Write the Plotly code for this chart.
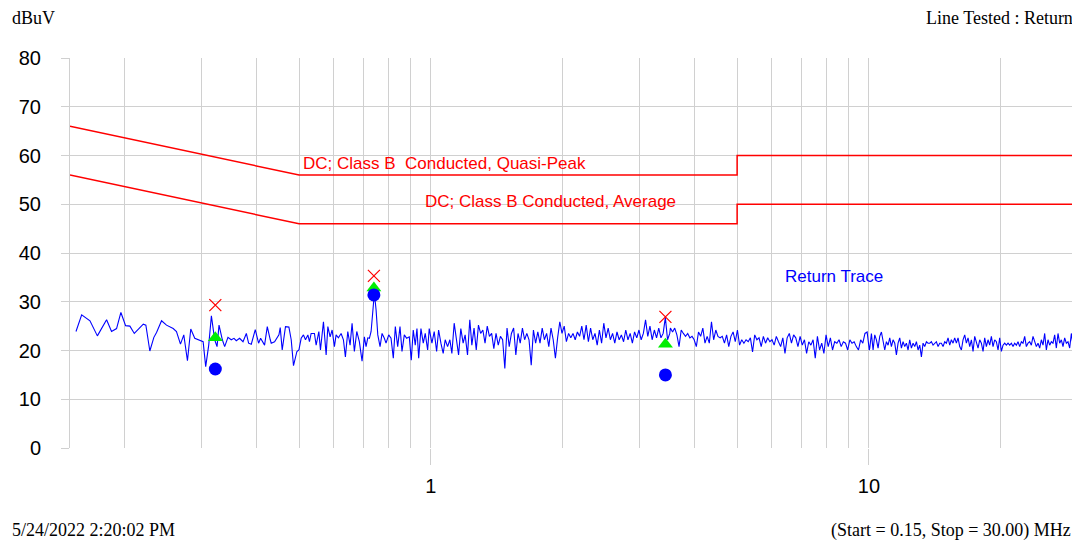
import numpy as np
import plotly.graph_objects as go

# ---------------- data ----------------
# Limit lines (MHz, dBuV)
qp_freq = [0.15, 0.5, 5.0, 5.0, 30.0]
qp_limit = [66, 56, 56, 60, 60]
avg_freq = [0.15, 0.5, 5.0, 5.0, 30.0]
avg_limit = [56, 46, 46, 50, 50]

# Trace, low band (explicit frequencies, MHz)
seg1_freq = [0.1548, 0.1595, 0.1666, 0.1732, 0.1818, 0.1866, 0.1916, 0.1960, 0.2009, 0.2055,
             0.2103, 0.2205, 0.2235, 0.2282, 0.2331, 0.2364, 0.2427, 0.2491, 0.2580, 0.2625,
             0.2681, 0.2728, 0.2781, 0.2830, 0.2890, 0.2957, 0.3020, 0.3061, 0.3110, 0.3154,
             0.3209, 0.3249, 0.3283, 0.3341, 0.3382, 0.3441, 0.3501, 0.3552, 0.3595, 0.3658,
             0.3724, 0.3790, 0.3835, 0.3890, 0.3972, 0.4042, 0.4085, 0.4171, 0.4231, 0.4298]
seg1_dbuv = [23.9, 27.3, 26.1, 23.0, 26.3, 23.9, 24.5, 27.8, 25.1, 25.0,
             23.5, 25.4, 25.2, 19.9, 22.7, 23.7, 26.1, 25.2, 24.5, 23.9,
             21.3, 23.2, 17.9, 24.4, 22.5, 22.2, 21.8, 16.7, 21.1, 27.1,
             22.2, 20.8, 25.2, 22.2, 20.8, 22.7, 22.2, 22.5, 22.0, 22.5,
             21.8, 23.5, 21.5, 21.3, 24.3, 21.5, 22.5, 21.1, 24.9, 22.2]

seg2_freq = [0.4320, 0.4396, 0.4498, 0.4529, 0.4576, 0.4656, 0.4740, 0.4798, 0.4856, 0.4944,
             0.4996, 0.5056, 0.5117, 0.5172, 0.5237, 0.5281, 0.5328, 0.5421, 0.5470, 0.5548,
             0.5595, 0.5684, 0.5765, 0.5817, 0.5887, 0.5949, 0.6021, 0.6075, 0.6148, 0.6237,
             0.6313, 0.6379, 0.6460, 0.6538, 0.6607, 0.6687, 0.6772, 0.6865, 0.6963, 0.7048,
             0.7111, 0.7175, 0.7237, 0.7302, 0.7367, 0.7429, 0.7496, 0.7563, 0.7654, 0.7735,
             0.7828, 0.7898, 0.8010, 0.8108, 0.8206, 0.8293, 0.8397, 0.8500, 0.8589, 0.8694,
             0.8803, 0.8925, 0.9018, 0.9113, 0.9209, 0.9292, 0.9376, 0.9489, 0.9605, 0.9705,
             0.9829, 0.9911, 1.0053, 1.0174, 1.0304, 1.0412, 1.0539, 1.0666, 1.0779, 1.0915,
             1.1048, 1.1164, 1.1300, 1.1443, 1.1564, 1.1702, 1.1845, 1.1969, 1.2121, 1.2268]
seg2_dbuv = [21.5, 21.8, 23.2, 24.7, 20.1, 24.9, 24.8, 22.2, 16.9, 19.8,
             20.1, 22.5, 23.2, 22.2, 23.2, 21.8, 23.5, 23.5, 21.1, 23.9,
             20.1, 25.9, 19.1, 24.9, 22.8, 24.2, 20.8, 23.2, 22.6, 23.5,
             22.2, 18.7, 23.9, 21.1, 25.6, 19.8, 23.9, 21.8, 17.8, 22.8,
             20.8, 22.6, 22.5, 23.9, 28.7, 31.8, 28.3, 23.2, 20.8, 23.5,
             22.5, 21.5, 23.2, 22.5, 18.4, 24.9, 20.8, 24.9, 19.8, 23.2,
             22.5, 22.8, 18.0, 24.2, 21.1, 24.5, 18.4, 24.5, 21.5, 23.5,
             20.1, 24.5, 21.5, 23.9, 19.8, 24.2, 21.5, 19.4, 22.2, 20.8,
             22.2, 19.4, 25.6, 21.8, 19.1, 24.5, 21.5, 23.2, 19.1, 26.3]

# Trace, higher bands (evenly spaced sweep points between start and stop, MHz)
seg3_start, seg3_stop = 1.240, 3.509
seg3_dbuv = [21.1, 24.6, 20.1, 25.2, 23.5, 24.2, 21.5, 25.0, 22.9, 23.5,
             20.4, 23.5, 21.1, 22.9, 22.2, 16.3, 24.6, 20.8, 23.5, 24.6,
             19.1, 23.5, 21.5, 24.6, 22.2, 23.5, 22.2, 17.0, 24.2, 21.5,
             23.8, 21.5, 24.6, 22.2, 23.5, 20.8, 24.6, 22.2, 18.4, 22.6,
             25.9, 23.5, 25.0, 21.8, 23.5, 22.6, 23.5, 22.2, 23.8, 22.9,
             25.0, 22.2, 25.2, 21.8, 24.6, 22.2, 23.5, 21.1, 24.2, 21.5,
             25.6, 22.6, 24.6, 22.2, 23.5, 21.5, 23.8, 22.2, 23.2, 21.8,
             24.2, 22.2, 23.5, 21.5, 23.8, 22.6, 24.2, 22.2, 23.5, 26.3,
             22.9, 25.0, 22.2, 24.2, 22.6, 24.6, 22.6, 23.5, 26.8, 22.2, 23.5]

seg4_start, seg4_stop = 3.521, 10.016
seg4_dbuv = [24.6, 23.8, 24.6, 23.2, 20.8, 24.2, 23.5, 22.9, 23.5, 22.6,
             22.9, 22.2, 20.8, 23.8, 22.9, 24.6, 21.5, 22.9, 21.5, 25.9,
             22.2, 24.2, 22.9, 22.6, 22.9, 21.5, 23.2, 20.8, 22.9, 23.8,
             21.8, 24.2, 21.1, 22.2, 21.5, 22.2, 21.8, 22.6, 19.7, 23.2,
             22.2, 22.6, 20.8, 22.9, 21.5, 22.6, 21.8, 22.2, 21.1, 22.9,
             21.8, 20.8, 22.6, 19.4, 22.6, 23.5, 21.5, 23.2, 22.6, 20.8,
             22.9, 21.1, 22.2, 19.4, 21.8, 21.1, 22.2, 18.4, 22.9, 20.1,
             21.5, 19.4, 23.2, 20.8, 22.6, 20.1, 21.8, 21.5, 22.2, 20.8,
             21.8, 21.5, 20.1, 22.2, 21.5, 21.8, 20.8, 20.1, 22.2, 21.5,
             23.5, 23.8, 20.1]

seg5_start, seg5_stop = 10.04, 30.0
seg5_dbuv = [20.5, 23.5, 20.1, 23.2, 22.2, 20.5, 22.9, 23.8, 21.5, 20.1,
             21.8, 21.1, 22.6, 20.8, 22.2, 21.5, 19.1, 21.5, 22.6, 20.5,
             21.8, 20.8, 21.5, 20.1, 22.2, 20.5, 21.5, 20.8, 21.8, 20.1,
             21.1, 18.7, 21.5, 20.8, 21.8, 21.5, 21.5, 21.8, 21.1, 21.5,
             21.8, 20.8, 21.5, 21.5, 20.8, 21.8, 21.5, 22.6, 21.1, 22.2,
             21.5, 22.6, 21.5, 22.6, 20.8, 20.1, 22.2, 23.2, 21.5, 22.6,
             20.8, 22.2, 19.8, 22.9, 21.5, 20.5, 22.2, 21.5, 19.8, 22.6,
             20.8, 22.2, 21.1, 22.9, 20.8, 22.2, 21.8, 20.1, 22.6, 19.8,
             21.1, 21.5, 21.1, 21.5, 21.1, 21.5, 20.8, 21.5, 21.1, 21.8,
             20.8, 21.8, 21.5, 22.9, 20.8, 21.5, 21.8, 21.1, 22.9, 21.8,
             20.8, 21.5, 20.5, 22.2, 21.1, 23.5, 20.1, 22.2, 21.1, 21.8,
             21.5, 23.2, 20.5, 23.5, 21.5, 22.2, 20.8, 22.6, 21.5, 21.8,
             20.5, 23.5, 21.1, 23.8, 20.5, 22.2]

# Measured points
meas_freq = [0.322, 0.741, 3.43]
peak_dbuv = [29.3, 35.3, 26.9]
qp_dbuv = [22.6, 32.8, 21.3]
avg_dbuv = [16.2, 31.4, 15.0]

# ---------------- build ----------------
trace_freq = (list(seg1_freq) + list(seg2_freq)
              + list(np.geomspace(seg3_start, seg3_stop, len(seg3_dbuv)))
              + list(np.geomspace(seg4_start, seg4_stop, len(seg4_dbuv)))
              + list(np.geomspace(seg5_start, seg5_stop, len(seg5_dbuv))))
trace_dbuv = seg1_dbuv + seg2_dbuv + seg3_dbuv + seg4_dbuv + seg5_dbuv

RED = "#ff0000"
BLUE = "#0000ff"
GRID = "#d0d0d0"
SANS = "Liberation Sans, Arial, sans-serif"
SERIF = "Liberation Serif, Times New Roman, serif"

fig = go.Figure()
fig.add_trace(go.Scatter(x=qp_freq, y=qp_limit, mode="lines",
                         line=dict(color=RED, width=1.5), hoverinfo="skip"))
fig.add_trace(go.Scatter(x=avg_freq, y=avg_limit, mode="lines",
                         line=dict(color=RED, width=1.5), hoverinfo="skip"))
fig.add_trace(go.Scatter(x=trace_freq, y=trace_dbuv, mode="lines",
                         line=dict(color=BLUE, width=1.1)))
fig.add_trace(go.Scatter(x=meas_freq, y=peak_dbuv, mode="markers",
                         marker=dict(symbol="x-thin-open", size=12, color=RED,
                                     line=dict(color=RED, width=1.2))))
fig.add_trace(go.Scatter(x=meas_freq, y=qp_dbuv, mode="markers",
                         marker=dict(symbol="triangle-up", size=13, color="#00ee00",
                                     line=dict(width=0))))
fig.add_trace(go.Scatter(x=meas_freq, y=avg_dbuv, mode="markers",
                         marker=dict(symbol="circle", size=13, color=BLUE,
                                     line=dict(width=0))))

minor_vals = [0.2, 0.3, 0.4, 0.5, 0.6, 0.7, 0.8, 0.9,
              2, 3, 4, 5, 6, 7, 8, 9, 20, 30]

# page body has an 8px margin, so the figure is sized to fit the remaining area
fig.update_layout(
    width=1072, height=534,
    margin=dict(l=62, r=2, t=50, b=94),
    paper_bgcolor="white", plot_bgcolor="white",
    showlegend=False,
    font=dict(family=SANS, color="black"),
    xaxis=dict(type="log", range=[np.log10(0.15), np.log10(30)],
               tickvals=[1, 10], ticktext=["1", "10"],
               ticks="outside", ticklen=16, tickcolor=GRID, tickwidth=1,
               showgrid=True, gridcolor=GRID, gridwidth=1,
               minor=dict(tickvals=minor_vals, showgrid=True, gridcolor=GRID,
                          gridwidth=1, ticks=""),
               zeroline=False, showline=False,
               tickfont=dict(family=SANS, size=20, color="black"),
               ticklabelstandoff=4),
    yaxis=dict(range=[0, 80], dtick=10, tick0=0,
               ticks="outside", ticklen=8, tickcolor=GRID, tickwidth=1,
               showgrid=True, gridcolor=GRID, gridwidth=1,
               zeroline=False, showline=True, linecolor=GRID, linewidth=1,
               tickfont=dict(family=SANS, size=20, color="black"),
               ticklabelstandoff=16),
)

W = 1008.0
H = 390.0
def px(xp):
    return (xp - 70) / W
def py(yp):
    return (448 - yp) / H

annos = [
    dict(text="dBuV", x=px(10), y=py(18), xanchor="left", yanchor="middle",
         font=dict(family=SERIF, size=18, color="black")),
    dict(text="Line Tested : Return", x=px(1075), y=py(18), xanchor="right", yanchor="middle",
         font=dict(family=SERIF, size=18, color="black")),
    dict(text="5/24/2022 2:20:02 PM", x=px(10), y=py(530), xanchor="left", yanchor="middle",
         font=dict(family=SERIF, size=18, color="black")),
    dict(text="(Start = 0.15, Stop = 30.00) MHz", x=px(1073), y=py(530), xanchor="right",
         yanchor="middle", font=dict(family=SERIF, size=18, color="black")),
]
for a in annos:
    a.update(xref="paper", yref="paper", showarrow=False)
    fig.add_annotation(**a)

fig.add_annotation(text="DC; Class B\u00a0 Conducted, Quasi-Peak", x=np.log10(0.505), y=58.4,
                   xref="x", yref="y", xanchor="left", yanchor="middle", showarrow=False,
                   font=dict(family=SANS, size=17, color=RED))
fig.add_annotation(text="DC; Class B Conducted, Average", x=np.log10(0.96), y=50.6,
                   xref="x", yref="y", xanchor="left", yanchor="middle", showarrow=False,
                   font=dict(family=SANS, size=17, color=RED))
fig.add_annotation(text="Return Trace", x=np.log10(6.37), y=35.1,
                   xref="x", yref="y", xanchor="left", yanchor="middle", showarrow=False,
                   font=dict(family=SANS, size=17, color=BLUE))

fig.write_html("out.html")
